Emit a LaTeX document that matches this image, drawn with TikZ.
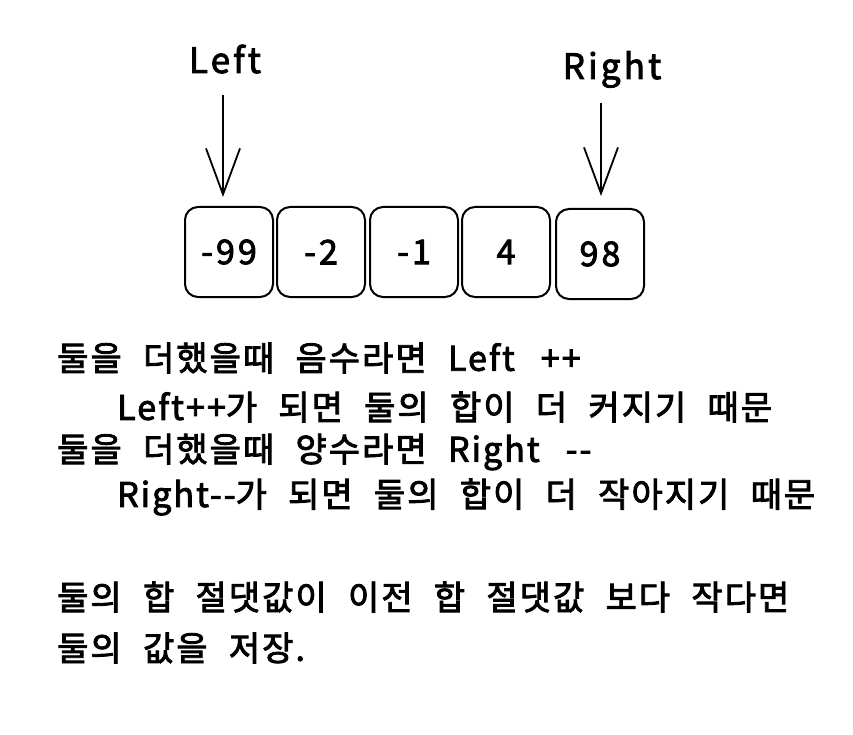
\documentclass[tikz,border=0pt]{standalone}
\usepackage{fontspec}
\setmainfont{Noto Sans CJK KR}[LetterSpace=6, WordSpace=2.2, FakeBold=2.5]
\usetikzlibrary{arrows.meta}
\newcommand\lt[1]{{\addfontfeatures{LetterSpace=6}#1}}
\newcommand\lw[1]{{\addfontfeatures{LetterSpace=9}#1}}
\begin{document}
\begin{tikzpicture}[x=1pt,y=-1pt,
  cell/.style={draw, line width=2pt, rounded corners=13pt, minimum width=88pt, minimum height=90pt, font=\fontsize{34}{36}\selectfont, inner sep=0pt},
  lbl/.style={anchor=base, font=\fontsize{35}{38}\selectfont, inner sep=0pt},
  arr/.style={line width=1.8pt, -{Straight Barb[length=46pt,width=34pt,line width=1.8pt]}},
  txt/.style={anchor=west, inner sep=0pt, font=\fontsize{34}{38}\selectfont}]
\useasboundingbox (0,0) rectangle (853,735);
\node[cell] (b1) at (229,252) {\lw{-99}};
\node[cell] (b2) at (321,252) {\lw{-2}};
\node[cell] (b3) at (414,252) {\lw{-1}};
\node[cell] (b4) at (506,252) {\lw{4}};
\node[cell] (b5) at (600,254) {\lw{98}};
\node[lbl] (L) at (225,73) {\lw{Left}};
\node[lbl] (R) at (612,79) {\lw{Right}};
\coordinate (ls) at (223,95);
\coordinate (rs) at (601,103);
\draw[arr, shorten >=9pt] (ls) -- (ls |- b1.north);
\draw[arr, shorten >=12pt] (rs) -- (rs |- b5.north);
\node[txt] (t1) at (57,358) {둘을 더했을때 음수라면 \lt{Left}\hspace{26pt}\lt{++}};
\node[txt] (t2) at (117,407) {\lt{Left++}가 되면 둘의 합이 더 커지기 때문};
\node[txt] (t3) at (57,452) {둘을 더했을때 양수라면 \lt{Right}\hspace{26pt}\lt{-{}-}};
\node[txt] (t4) at (117,497) {\lt{Right-{}-}가 되면 둘의 합이 더 작아지기 때문};
\node[txt] (t5) at (57,597) {둘의 합 절댓값이 이전 합 절댓값 보다 작다면};
\node[txt] (t6) at (57,648) {둘의 값을 저장.};
\end{tikzpicture}
\end{document}
